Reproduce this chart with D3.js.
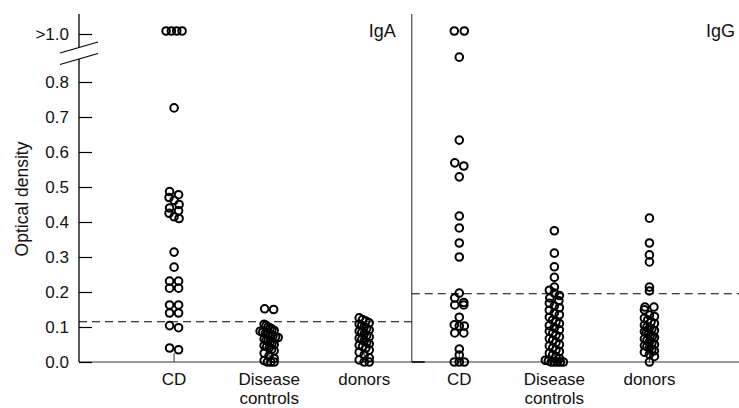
<!DOCTYPE html>
<html lang="en">
<head>
<meta charset="utf-8">
<title>Optical density</title>
<script src="https://d3js.org/d3.v7.min.js"></script>
<style>
body { margin: 0; background: #fff; }
text { font-family: "Liberation Sans", Arial, sans-serif; fill: #111; }
.dot { fill: none; stroke: #000; stroke-width: 2; }
</style>
</head>
<body>
<div id="container"></div>
<script>
// values above 1.0 are stored as 1.2 and shown in the ">1.0" row
var panels = ["IgA", "IgG"];
var groups = ["CD", "Disease controls", "donors"];
var tickVals = [0, 0.1, 0.2, 0.3, 0.4, 0.5, 0.6, 0.7, 0.8, 1.0];
var cutoffs = [0.115, 0.195];

var igaCD = [1.2, 1.2, 1.2, 1.2, 0.726, 0.487, 0.478, 0.470, 0.462, 0.450, 0.440, 0.432, 0.425, 0.415, 0.410,
  0.314, 0.271, 0.231, 0.231, 0.211, 0.211, 0.163, 0.163, 0.140, 0.140, 0.104, 0.098, 0.040, 0.035];
var igaDisease = [0.152, 0.150, 0.108, 0.104, 0.100, 0.097, 0.094, 0.090, 0.088, 0.085, 0.082, 0.080, 0.077,
  0.075, 0.072, 0.070, 0.066, 0.062, 0.060, 0.057, 0.054, 0.050, 0.047, 0.044, 0.040, 0.036, 0.032, 0.025,
  0.018, 0.010, 0.004, 0, 0, 0];
var igaDonors = [0.126, 0.121, 0.117, 0.112, 0.108, 0.104, 0.100, 0.096, 0.092, 0.088, 0.084, 0.080, 0.076,
  0.072, 0.068, 0.064, 0.060, 0.056, 0.052, 0.048, 0.044, 0.040, 0.034, 0.028, 0.020, 0.012, 0.006, 0, 0];
var iggCD = [1.2, 1.2, 0.871, 0.634, 0.569, 0.560, 0.529, 0.417, 0.383, 0.340, 0.300, 0.197, 0.183, 0.170,
  0.163, 0.163, 0.128, 0.106, 0.103, 0.103, 0.083, 0.083, 0.037, 0.020, 0, 0, 0];
var iggDisease = [0.375, 0.311, 0.272, 0.242, 0.214, 0.205, 0.197, 0.190, 0.183, 0.175, 0.168, 0.160, 0.155,
  0.148, 0.140, 0.135, 0.128, 0.120, 0.115, 0.110, 0.104, 0.098, 0.092, 0.088, 0.082, 0.077, 0.072, 0.067,
  0.062, 0.056, 0.050, 0.046, 0.040, 0.035, 0.030, 0.025, 0.020, 0.015, 0.010, 0.005, 0.003, 0, 0, 0, 0, 0];
var iggDonors = [0.411, 0.340, 0.306, 0.286, 0.214, 0.203, 0.157, 0.157, 0.149, 0.134, 0.130, 0.125, 0.120,
  0.115, 0.110, 0.105, 0.100, 0.097, 0.094, 0.090, 0.087, 0.084, 0.080, 0.077, 0.074, 0.070, 0.066, 0.062,
  0.058, 0.054, 0.050, 0.047, 0.044, 0.040, 0.036, 0.032, 0.028, 0.022, 0.016, 0];

var series = [igaCD, igaDisease, igaDonors, iggCD, iggDisease, iggDonors];

var w = 739, h = 408;
var svg = d3.select("#container").append("svg").attr("width", w).attr("height", h);

var x = d3.scaleLinear().domain([0, 7]).range([79, 744.5]);
var y = d3.scaleLinear().domain([0, 0.9, 1.0, 1.2]).range([362, 47, 34, 31]).clamp(true);
var yTop = 14, breakLo = 59, breakHi = 47.5;

// bottom line
svg.append("line").attr("x1", x(0)).attr("x2", w).attr("y1", y(0)).attr("y2", y(0))
  .attr("stroke", "#777").attr("stroke-width", 1.5);

// y axis
var yAxis = d3.axisLeft(y).tickValues(tickVals)
  .tickFormat(function(d) { return d > 0.9 ? ">1.0" : d3.format(".1f")(d); })
  .tickSize(-13).tickPadding(10);
var ga = svg.append("g").attr("transform", "translate(" + x(0) + ",0)").call(yAxis);
ga.select(".domain").remove();
ga.selectAll(".tick line").attr("stroke", "#000").attr("stroke-width", 1.2);
ga.selectAll(".tick text").style("font-size", "17px").style("font-family", "Liberation Sans, Arial, sans-serif").attr("fill", "#111");

ga.append("line").attr("y1", yTop).attr("y2", breakHi).attr("stroke", "#000").attr("stroke-width", 1.3);
ga.append("line").attr("y1", breakLo).attr("y2", y(0)).attr("stroke", "#000").attr("stroke-width", 1.3);
[breakHi, breakLo].forEach(function(b) {
  ga.append("line").attr("x1", -19).attr("x2", 19).attr("y1", b + 5.5).attr("y2", b - 5.5)
    .attr("stroke", "#000").attr("stroke-width", 1.2);
});

// y label
svg.append("text").attr("transform", "translate(28,199) rotate(-90)")
  .attr("text-anchor", "middle").style("font-size", "17.5px").text("Optical density");

// divider between panels
var xDiv = x(3.5);
svg.append("line").attr("x1", xDiv).attr("x2", xDiv).attr("y1", yTop).attr("y2", y(0))
  .attr("stroke", "#555").attr("stroke-width", 1.3);
svg.append("line").attr("x1", xDiv).attr("x2", xDiv + 13).attr("y1", y(0)).attr("y2", y(0))
  .attr("stroke", "#000").attr("stroke-width", 1.5);

// panel names
panels.forEach(function(p, i) {
  svg.append("text").attr("x", i === 0 ? xDiv - 16 : w - 4).attr("y", 37)
    .attr("text-anchor", "end").style("font-size", "18px").text(p);
});

// cutoff lines
cutoffs.forEach(function(c, i) {
  svg.append("line").attr("x1", i === 0 ? x(0) : xDiv).attr("x2", i === 0 ? xDiv : w)
    .attr("y1", y(c)).attr("y2", y(c))
    .attr("stroke", "#000").attr("stroke-width", 1).attr("stroke-dasharray", "8,5");
});

// category labels and small ticks
series.forEach(function(s, i) {
  var cx = x(i + 1);
  svg.append("line").attr("x1", cx).attr("x2", cx).attr("y1", y(0)).attr("y2", y(0) - 9)
    .attr("stroke", "#333").attr("stroke-width", 1);
  var t = svg.append("text").attr("x", cx).attr("y", 385).attr("text-anchor", "middle")
    .style("font-size", "17px");
  groups[i % 3].split(" ").forEach(function(word, j) {
    t.append("tspan").attr("x", cx).attr("dy", j === 0 ? 0 : 19).text(word);
  });
});

// spread points that share a row
function spread(vals) {
  var bins = d3.group(vals.map(function(v) { return { v: v }; }),
    function(d) { return d.v > 1 ? 99 : Math.round(d.v / 0.02); });
  var out = [];
  bins.forEach(function(arr, key) {
    var n = arr.length, half;
    if (n === 1) half = 0;
    else if (key === 99) half = Math.min(5 * (n - 1), 8);
    else if (n === 2) half = 4.5;
    else if (n <= 6) half = 5;
    else half = 9;
    arr.forEach(function(d, j) {
      out.push({ v: d.v, off: n === 1 ? 0 : -half + j * 2 * half / (n - 1) });
    });
  });
  return out;
}

series.forEach(function(s, i) {
  svg.append("g").selectAll("circle")
    .data(spread(s))
    .enter()
    .append("circle")
      .attr("class", "dot")
      .attr("cx", function(d) { return x(i + 1) + d.off; })
      .attr("cy", function(d) { return y(d.v); })
      .attr("r", 3.8);
});
</script>
</body>
</html>
